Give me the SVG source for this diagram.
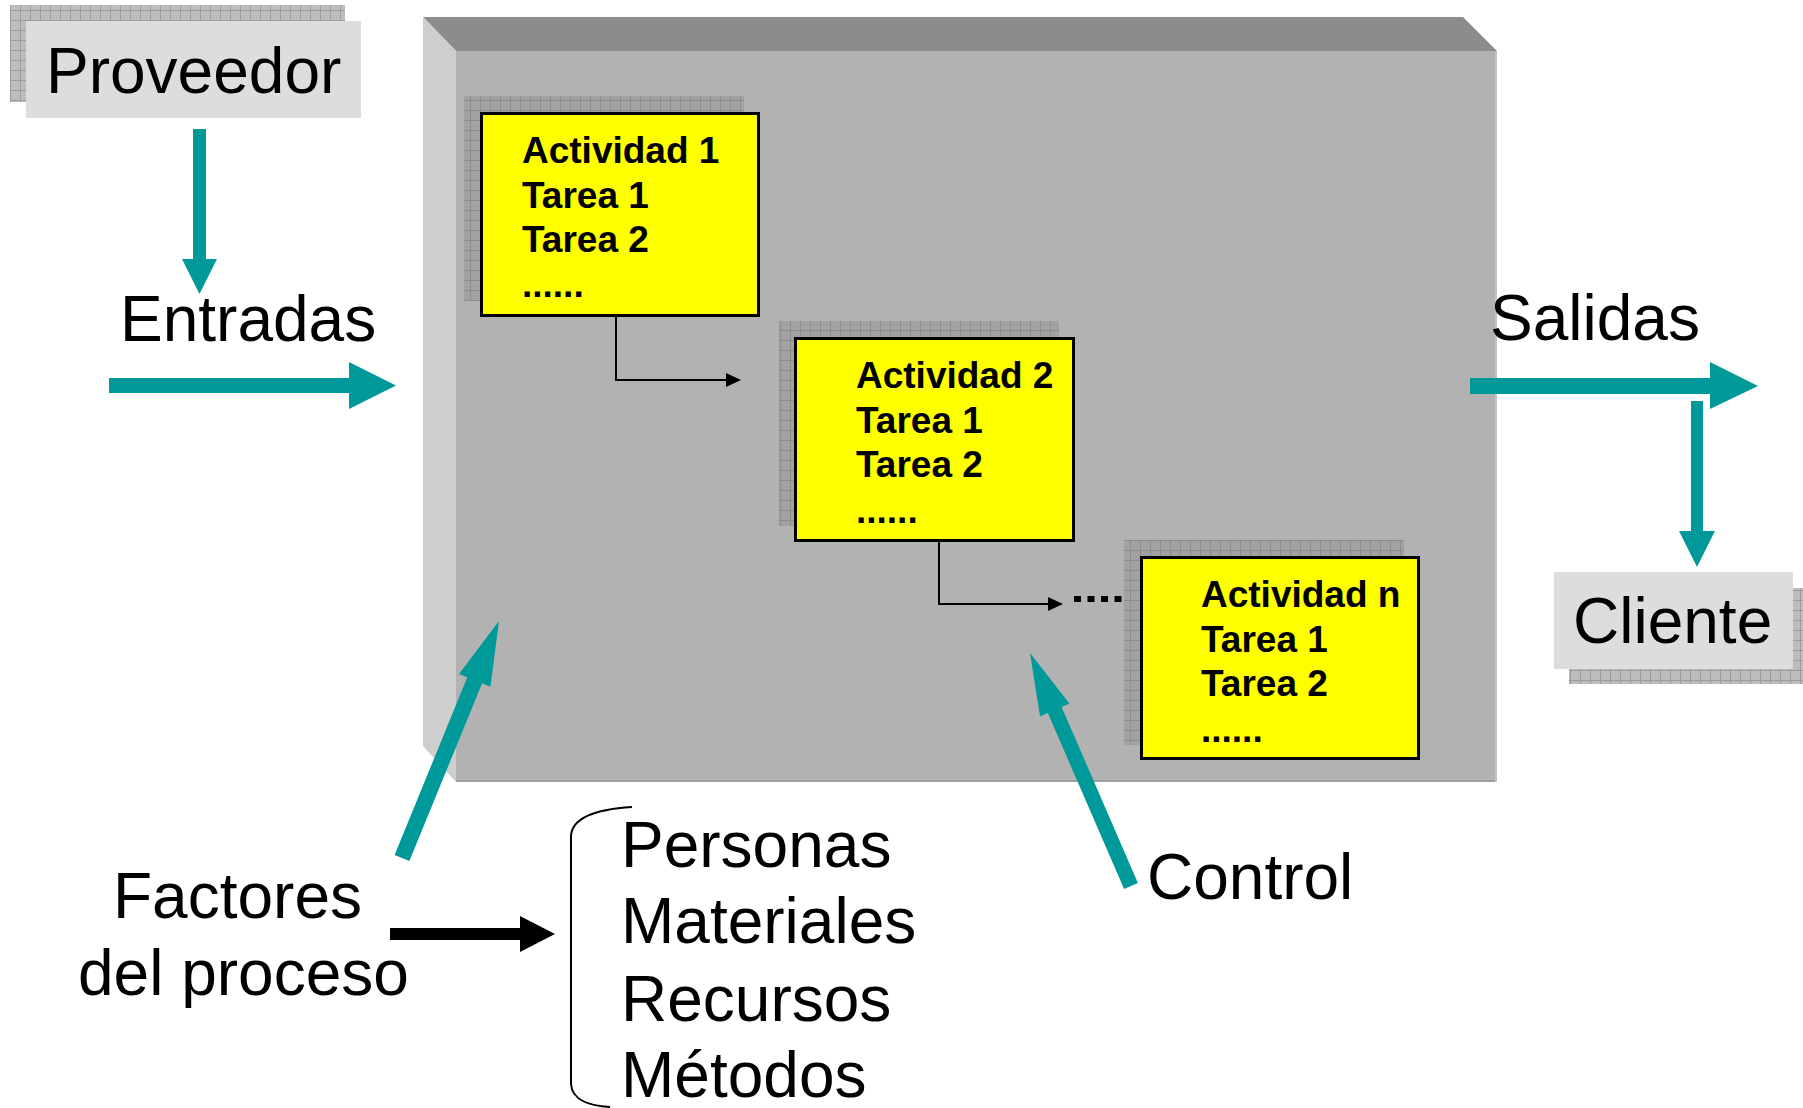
<svg xmlns="http://www.w3.org/2000/svg" width="1803" height="1108" viewBox="0 0 1803 1108">
  <defs>
    <!-- hatched drop shadows: one tuned for white ground, one for the grey process box -->
    <pattern id="hatchLight" width="10" height="10" patternUnits="userSpaceOnUse">
      <rect width="10" height="10" fill="#bdbdbd"/>
      <path d="M0 0.5H10M0.5 0V10" stroke="#9c9c9c" stroke-width="1"/>
    </pattern>
    <pattern id="hatchDark" width="10" height="10" patternUnits="userSpaceOnUse">
      <rect width="10" height="10" fill="#a2a2a2"/>
      <path d="M0 0.5H10M0.5 0V10" stroke="#8c8c8c" stroke-width="1"/>
    </pattern>
  </defs>
  <style>
    .big { font-family: "Liberation Sans", Arial, sans-serif; font-size: 64px; fill: #000; }
    .act { font-family: "Liberation Sans", Arial, sans-serif; font-size: 37px; font-weight: bold; fill: #000; }
    .label-box { fill: #dddddd; }
    .act-box { fill: #ffff00; stroke: #000; stroke-width: 3; }
    .teal { fill: #009999; }
    .thin { fill: none; stroke: #000; stroke-width: 2; }
  </style>

  <rect width="1803" height="1108" fill="#ffffff"/>

  <!-- process block drawn as a bevelled slab -->
  <g id="process">
    <polygon points="423,17 1463,17 1497,51 456,51" fill="#8c8c8c"/>
    <polygon points="423,17 456,51 456,782 423,746" fill="#cecece"/>
    <rect x="456" y="51" width="1041" height="731" fill="#b2b2b2"/>
    <line x1="456" y1="781" x2="1497" y2="781" stroke="#9e9e9e" stroke-width="2"/>
    <line x1="1496" y1="51" x2="1496" y2="782" stroke="#c4c4c4" stroke-width="2"/>
  </g>

  <g id="proveedor">
    <rect x="10" y="5" width="335" height="97" fill="url(#hatchLight)"/>
    <rect class="label-box" x="26" y="21" width="335" height="97"/>
    <text class="big" x="46" y="93">Proveedor</text>
  </g>

  <g id="cliente">
    <rect x="1569" y="588" width="240" height="96" fill="url(#hatchLight)"/>
    <rect class="label-box" x="1554" y="572" width="239" height="97"/>
    <text class="big" x="1573" y="643">Cliente</text>
  </g>

  <g id="actividad-1">
    <rect x="464" y="96" width="280" height="205" fill="url(#hatchDark)"/>
    <rect class="act-box" x="481.5" y="113.5" width="277" height="202"/>
    <text class="act" x="522" y="163">Actividad 1</text>
    <text class="act" x="522" y="208">Tarea 1</text>
    <text class="act" x="522" y="252">Tarea 2</text>
    <text class="act" x="522" y="297">......</text>
  </g>

  <g id="actividad-2">
    <rect x="779" y="321" width="280" height="205" fill="url(#hatchDark)"/>
    <rect class="act-box" x="795.5" y="338.5" width="278" height="202"/>
    <text class="act" x="856" y="388">Actividad 2</text>
    <text class="act" x="856" y="433">Tarea 1</text>
    <text class="act" x="856" y="477">Tarea 2</text>
    <text class="act" x="856" y="523">......</text>
  </g>

  <g id="actividad-n">
    <rect x="1124" y="540" width="280" height="205" fill="url(#hatchDark)"/>
    <rect class="act-box" x="1141.5" y="557.5" width="277" height="201"/>
    <text class="act" x="1201" y="607">Actividad n</text>
    <text class="act" x="1201" y="652">Tarea 1</text>
    <text class="act" x="1201" y="696">Tarea 2</text>
    <text class="act" x="1201" y="742">......</text>
  </g>

  <g id="entradas-label">
    <text class="big" x="120" y="341">Entradas</text>
  </g>
  <g id="salidas-label">
    <text class="big" x="1490" y="340">Salidas</text>
  </g>
  <g id="factores">
    <text class="big" x="113" y="918">Factores</text>
    <text class="big" x="78" y="995">del proceso</text>
  </g>
  <g id="control-label">
    <text class="big" x="1147" y="899">Control</text>
  </g>
  <g id="recursos-list">
    <path class="thin" d="M632,807 C600,809 572,816 571,836 V1084 C572,1100 590,1106 610,1107"/>
    <text class="big" x="621" y="867">Personas</text>
    <text class="big" x="621" y="943">Materiales</text>
    <text class="big" x="621" y="1021">Recursos</text>
    <text class="big" x="621" y="1097">Métodos</text>
  </g>

  <g id="connectors">
    <!-- supplier down to inputs -->
    <rect class="teal" x="193" y="129" width="13" height="130"/>
    <polygon class="teal" points="182,259 217,259 199.5,294"/>
    <!-- inputs into process -->
    <rect class="teal" x="109" y="378" width="240" height="15"/>
    <polygon class="teal" points="349,362 349,409 396,385.5"/>
    <!-- outputs -->
    <rect class="teal" x="1470" y="378" width="240" height="16"/>
    <polygon class="teal" points="1710,362 1710,409 1758,386"/>
    <!-- outputs down to client -->
    <rect class="teal" x="1691" y="401" width="12" height="130"/>
    <polygon class="teal" points="1679,531 1715,531 1697,567"/>
    <!-- process factors into the block -->
    <polygon class="teal" points="394.6,855 467.3,677.3 459,673.9 499,621 490.4,686.7 482.1,683.3 409.4,861"/>
    <!-- control into the block -->
    <polygon class="teal" points="1124.1,889 1047.8,712.9 1040,716.3 1030,653 1069.4,703.5 1061.6,706.9 1137.9,883"/>
    <!-- factors to the list -->
    <rect x="390" y="928" width="130" height="12" fill="#000"/>
    <polygon points="520,916 520,952 555,934" fill="#000"/>
    <!-- activity 1 to activity 2 -->
    <path class="thin" d="M616,317 V380 H728"/>
    <polygon points="726,373 741,380 726,387" fill="#000"/>
    <!-- activity 2 onward -->
    <path class="thin" d="M939,542 V604 H1050"/>
    <polygon points="1048,597 1063,604 1048,611" fill="#000"/>
    <rect x="1074" y="596" width="7" height="6" fill="#000"/>
    <rect x="1087.5" y="596" width="7" height="6" fill="#000"/>
    <rect x="1101" y="596" width="7" height="6" fill="#000"/>
    <rect x="1114.5" y="596" width="7" height="6" fill="#000"/>
  </g>
</svg>
